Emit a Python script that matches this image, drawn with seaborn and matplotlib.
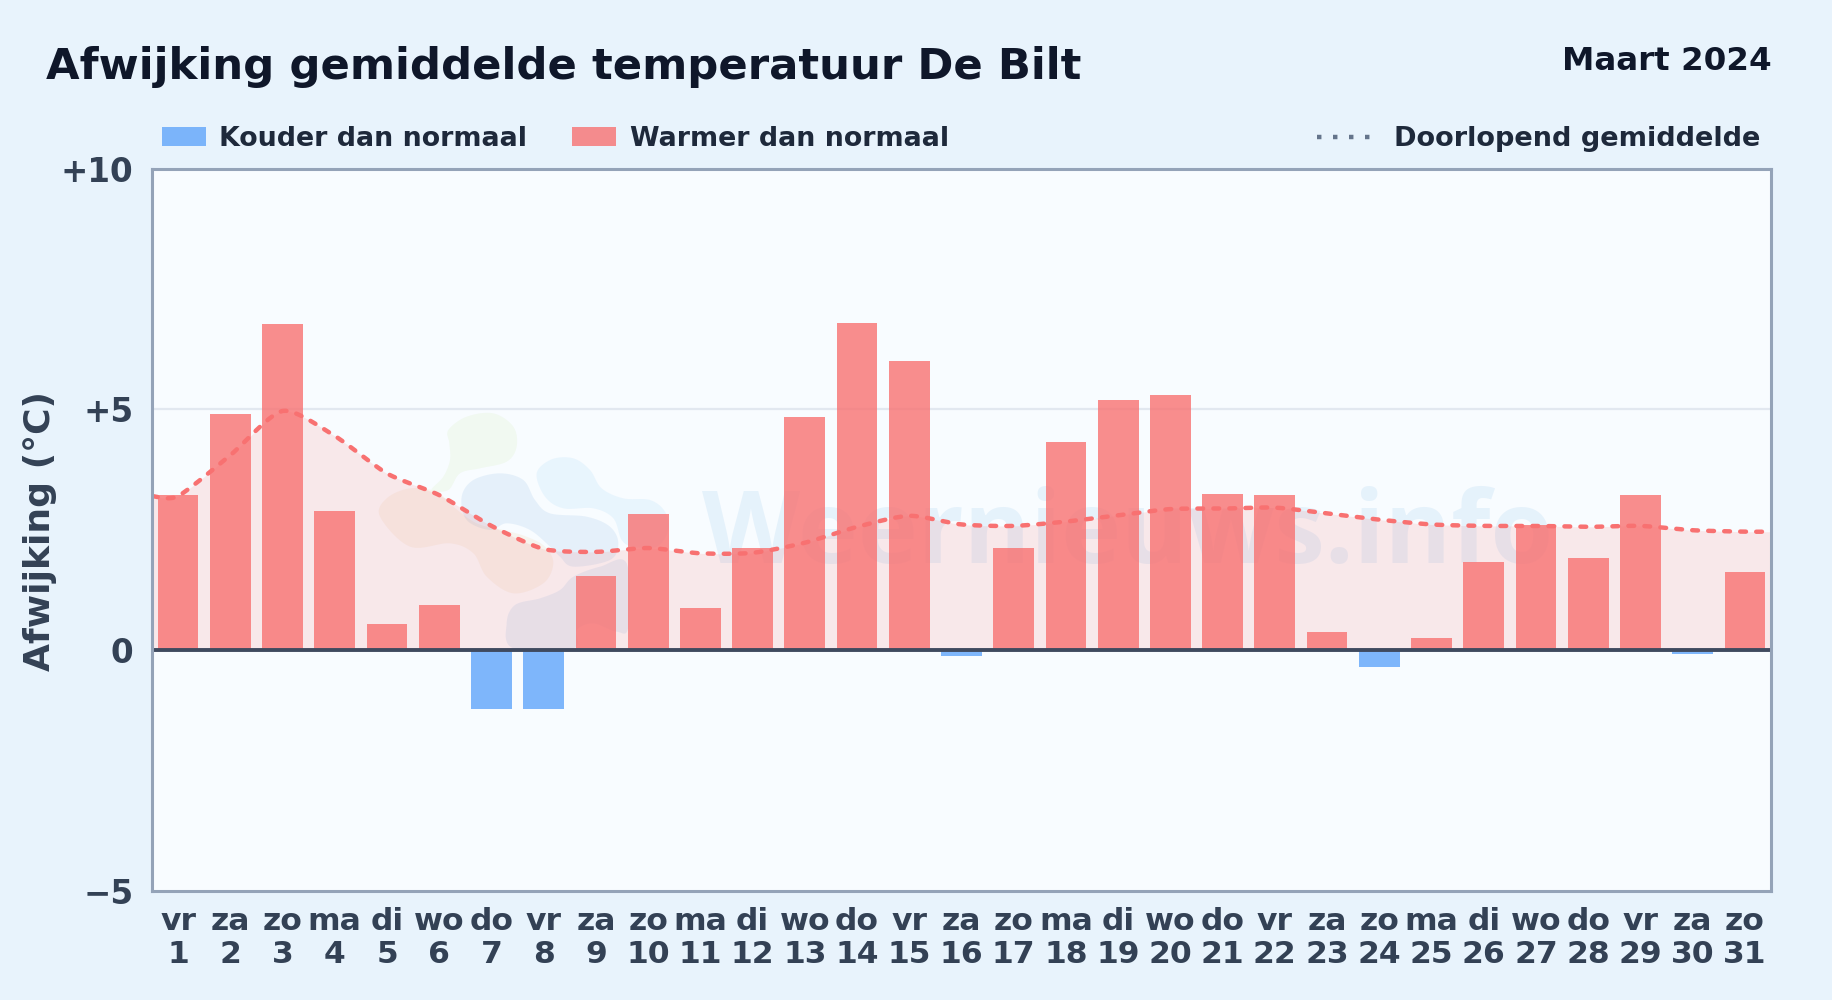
import numpy as np
import pandas as pd
import matplotlib
matplotlib.use("Agg")
import matplotlib.pyplot as plt
from matplotlib.patches import Patch
from matplotlib.lines import Line2D
from matplotlib.transforms import Affine2D
import seaborn as sns

# ---- data ----
weekdays = ["vr","za","zo","ma","di","wo","do","vr","za","zo","ma","di","wo","do","vr","za",
            "zo","ma","di","wo","do","vr","za","zo","ma","di","wo","do","vr","za","zo"]
days = list(range(1, 32))
deviation = [3.22,4.9,6.78,2.9,0.55,0.93,-1.22,-1.22,1.53,2.83,0.88,2.12,4.85,6.8,6.0,-0.12,
             2.12,4.33,5.2,5.3,3.25,3.22,0.37,-0.35,0.25,1.82,2.6,1.92,3.22,-0.08,1.62]
running_mean = [3.2,4.05,4.97,4.45,3.67,3.22,2.58,2.10,2.04,2.12,2.01,2.02,2.23,2.56,2.79,2.61,
                2.58,2.67,2.80,2.93,2.94,2.96,2.84,2.71,2.61,2.58,2.58,2.56,2.58,2.49,2.46]
y_ticks = [-5, 0, 5, 10]
y_tick_labels = ["\u22125", "0", "+5", "+10"]
cold_label = "Kouder dan normaal"
warm_label = "Warmer dan normaal"
mean_label = "Doorlopend gemiddelde"

W, H = 1832, 1000
sns.set_theme(style="white")
plt.rcParams["font.family"] = ["DejaVu Sans"]
plt.rcParams["font.weight"] = "bold"

BG = "#e8f3fc"
fig = plt.figure(figsize=(W/100, H/100), dpi=100, facecolor=BG)
L, R, T, B = 152, 1771, 169, 890.5
ax = fig.add_axes([L/W, 1-B/H, (R-L)/W, (B-T)/H], facecolor="#f8fcff")

px = Affine2D().scale(1/W, -1/H).translate(0, 1) + fig.transFigure


def hermite(x, y, n=14, closed=False, s=0.5):
    x, y = np.asarray(x, float), np.asarray(y, float)
    if closed:
        P = np.c_[np.r_[x[-1], x, x[:2]], np.r_[y[-1], y, y[:2]]]
    else:
        P = np.c_[np.r_[x[0], x, x[-1]], np.r_[y[0], y, y[-1]]]
    out = []
    t = np.linspace(0, 1, n, endpoint=False)[:, None]
    for i in range(1, len(P)-2):
        p0, p1, p2, p3 = P[i-1], P[i], P[i+1], P[i+2]
        m1, m2 = s*(p2-p0), s*(p3-p1)
        out.append((2*t**3-3*t**2+1)*p1 + (t**3-2*t**2+t)*m1 + (-2*t**3+3*t**2)*p2 + (t**3-t**2)*m2)
    out = np.vstack(out)
    if not closed:
        out = np.vstack([out, P[-2]])
    return out[:, 0], out[:, 1]


# ---- watermark (decorative logo + real text) ----
def blob(points, color, alpha):
    pts = np.array(points, float)
    xb, yb = hermite(360 + pts[:, 0]/3, 390 + pts[:, 1]/3, closed=True)
    ax.fill(xb, yb, transform=px, color=color, alpha=alpha, lw=0, zorder=1, clip_on=True)


blob([(265,120),(320,80),(400,70),(460,110),(470,170),(440,215),(360,235),(300,250),(265,300),
      (215,300),(250,260),(270,210),(268,160)], "#84cc16", 0.06)
blob([(530,250),(575,208),(640,205),(690,240),(725,295),(790,325),(870,330),(915,365),(925,420),
      (890,470),(820,470),(785,450),(760,385),(700,355),(610,355),(555,320)], "#38a3f0", 0.08)
blob([(305,320),(340,270),(420,250),(490,270),(525,330),(570,370),(680,380),(750,410),(775,460),
      (750,510),(640,530),(600,500),(570,470),(510,420),(440,400),(390,420),(320,390)], "#2f7fd0", 0.09)
blob([(60,380),(150,470),(270,460),(340,490),(380,560),(460,610),(550,580),(580,520),(555,470),
      (500,440),(430,420),(350,400),(280,350),(230,305),(150,295),(80,325)], "#e8b060", 0.10)
blob([(440,700),(465,645),(540,625),(600,600),(640,560),(720,530),(800,520),(805,710),(770,725),
      (700,700),(650,720),(640,775),(460,775)], "#2f7fd0", 0.09)
ax.text(702, 563, "Weernieuws.info", transform=px, fontsize=73, fontweight="bold",
        family="Open Sans", color="#2f8fd8", alpha=0.09, ha="left", va="baseline", zorder=1)

# ---- grid + area ----
ax.axhline(5, color="#e2e8f0", lw=1.6, zorder=0.5)
pos = np.arange(len(days))
sx = np.r_[pos[0]-0.5, pos, pos[-1]+0.5]
sy = np.r_[running_mean[0], running_mean, running_mean[-1]]
cx, cy = hermite(sx, sy, s=0.36)
ax.fill_between(cx, cy, 0, color="#f87171", alpha=0.14, lw=0, zorder=2)

# ---- bars ----
labels = [f"{w}\n{d}" for w, d in zip(weekdays, days)]
df = pd.DataFrame({"label": labels, "value": deviation,
                   "kind": [warm_label if v >= 0 else cold_label for v in deviation]})
sns.barplot(data=df, x="label", y="value", hue="kind", order=labels,
            hue_order=[cold_label, warm_label],
            palette={cold_label: "#60a5fa", warm_label: "#f87171"},
            dodge=False, width=0.78, saturation=1, alpha=0.8, legend=False, ax=ax, zorder=3,
            linewidth=0, edgecolor="none")

# ---- running mean ----
line_df = pd.DataFrame({"x": cx, "y": cy})
sns.lineplot(data=line_df, x="x", y="y", sort=False, errorbar=None, color="#f87171", lw=3.2,
             linestyle=(0, (1.3, 2.3)), dash_capstyle="round", zorder=5, ax=ax)
ax.axhline(0, color="#3f4a5f", lw=2.8, zorder=6)

# ---- axes ----
ax.set_xlim(-0.5, 30.5)
ax.set_ylim(-5, 10)
ax.set_yticks(y_ticks, y_tick_labels)
ax.set_xlabel("")
ax.set_ylabel("")
ax.tick_params(axis="y", length=0, pad=13.5, labelsize=23.5, labelcolor="#334155")
ax.tick_params(axis="x", length=0, pad=12, labelsize=22.6, labelcolor="#334155")
for t in ax.get_xticklabels():
    t.set_linespacing(1.18)
    t.set_fontweight("bold")
for t in ax.get_yticklabels():
    t.set_fontweight("bold")
for s in ax.spines.values():
    s.set_visible(True)
    s.set_color("#94a3b8")
    s.set_linewidth(2.2)
    s.set_zorder(7)

# ---- titles ----
fig.text(46/W, 1-79/H, "Afwijking gemiddelde temperatuur De Bilt", fontsize=31.2,
         fontweight="bold", color="#0f172a", ha="left", va="baseline")
fig.text(1772/W, 1-70/H, "Maart 2024", fontsize=23.4, fontweight="bold", color="#0f172a",
         ha="right", va="baseline")
fig.text(40/W, 1-531/H, "Afwijking (°C)", fontsize=26, fontweight="bold", color="#334155",
         rotation=90, ha="center", va="center")

# ---- legends ----
h1 = [Patch(facecolor="#60a5fa", alpha=0.8, lw=0, label=cold_label),
      Patch(facecolor="#f87171", alpha=0.8, lw=0, label=warm_label)]
leg1 = ax.legend(handles=h1, loc="lower left", bbox_to_anchor=(162/W, 1-152/H),
                 bbox_transform=fig.transFigure, ncol=2, frameon=False,
                 handlelength=1.63, handleheight=0.7, handletextpad=0.5, columnspacing=1.67,
                 borderpad=0, borderaxespad=0, labelcolor="#1e293b", prop={"weight": "bold", "size": 19.4})
ax.add_artist(leg1)
h2 = [Line2D([], [], color="#64748b", lw=3.2, linestyle=(0, (1.0, 2.6)), label=mean_label)]
leg2 = ax.legend(handles=h2, loc="lower right", bbox_to_anchor=(1760/W, 1-152/H),
                 bbox_transform=fig.transFigure, frameon=False,
                 handlelength=2.05, handletextpad=0.78, borderpad=0, borderaxespad=0,
                 labelcolor="#1e293b", prop={"weight": "bold", "size": 19.5})

fig.savefig("out.png", dpi=100, facecolor=BG)
